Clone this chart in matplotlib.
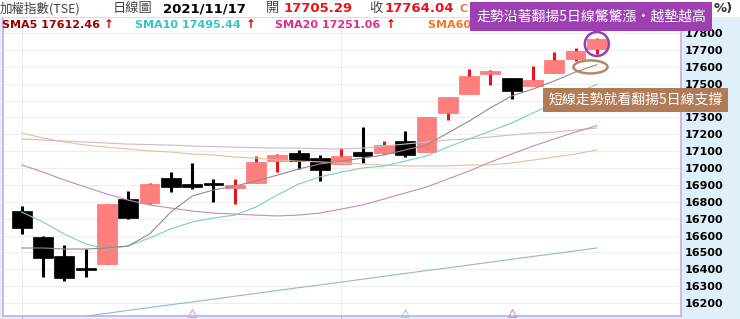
import matplotlib
matplotlib.use("Agg")
import matplotlib.pyplot as plt
from matplotlib.patches import Rectangle, Ellipse

plt.rcParams['font.family'] = ['DejaVu Sans', 'Noto Sans CJK TC']

# daily candles (index 0 .. 27)
opens = [16745, 16593, 16480, 16398, 16430, 16816, 16791, 16939, 16892, 16901,
         16884, 16909, 17040, 17087, 17057, 17024, 17097, 17091, 17162, 17097,
         17328, 17439, 17560, 17531, 17486, 17565, 17644, 17705.29]
highs = [16775, 16597, 16544, 16520, 16787, 16864, 16912, 16978, 17031, 16935,
         16935, 17071, 17083, 17107, 17077, 17120, 17241, 17160, 17221, 17300,
         17419, 17585, 17581, 17531, 17604, 17687, 17709, 17768]
lows = [16609, 16354, 16332, 16354, 16429, 16698, 16784, 16860, 16874, 16800,
        16787, 16909, 16975, 16994, 16923, 17024, 17028, 17081, 17063, 17097,
        17284, 17439, 17492, 17407, 17486, 17565, 17634, 17674]
closes = [16644, 16467, 16348, 16395, 16785, 16706, 16905, 16889, 16889, 16898,
          16899, 17037, 17077, 17041, 16988, 17073, 17071, 17136, 17077, 17300,
          17419, 17545, 17568, 17456, 17521, 17640, 17695, 17764.04]

# moving averages
sma5 = [16526, 16526, 16520, 16520, 16526, 16538, 16609, 16739, 16834, 16870,
        16893, 16923, 16958, 16994, 17024, 17041, 17059, 17077, 17107, 17136,
        17207, 17278, 17356, 17427, 17468, 17516, 17569, 17612]
sma10 = [16739, 16680, 16609, 16550, 16520, 16538, 16585, 16639, 16680, 16704,
         16721, 16769, 16840, 16905, 16947, 16976, 17000, 17012, 17041, 17071,
         17124, 17172, 17219, 17267, 17326, 17385, 17444, 17495]
sma20 = [17018, 16976, 16929, 16887, 16846, 16810, 16781, 16763, 16745, 16733,
         16727, 16721, 16716, 16721, 16733, 16757, 16781, 16816, 16852, 16887,
         16935, 16982, 17035, 17083, 17130, 17172, 17213, 17251]
sma60 = [17207, 17178, 17154, 17136, 17124, 17113, 17101, 17095, 17083, 17077,
         17065, 17059, 17047, 17041, 17036, 17030, 17024, 17018, 17012, 17012,
         17012, 17018, 17018, 17030, 17047, 17065, 17083, 17107]
sma120 = [17172, 17166, 17160, 17154, 17148, 17142, 17139, 17136, 17130, 17127,
          17124, 17121, 17118, 17118, 17115, 17112, 17118, 17130, 17142, 17154,
          17166, 17172, 17184, 17196, 17207, 17213, 17225, 17237]
sma240 = [16070, 16088, 16105, 16122, 16139, 16156, 16173, 16190, 16206, 16223,
          16240, 16257, 16274, 16291, 16307, 16324, 16341, 16358, 16375, 16392,
          16408, 16425, 16442, 16459, 16476, 16492, 16509, 16526]

yticks = list(range(16200, 17900, 100))
# 17400 sits under the annotation box in the original
ytick_labels = ["" if v == 17400 else str(v) for v in yticks]

RED_BODY = "#ff7e7e"
RED_WICK = "#e8141c"

fig = plt.figure(figsize=(7.4, 3.19), dpi=100)
fig.patch.set_facecolor("#dff0fb")
W, H = 740.0, 319.0


def fx(x):
    return x / W


def fy(y):
    return 1 - y / H


# white header strip
fig.patches.append(Rectangle((0, fy(17)), 1, 17 / H, transform=fig.transFigure,
                             facecolor="white", edgecolor="none", zorder=0))

ax = fig.add_axes([3 / W, 3 / H, 678 / W, 299 / H])
ax.set_facecolor("white")

n = len(closes)
xs = list(range(n))

for i in xs:
    o, h, l, c = opens[i], highs[i], lows[i], closes[i]
    up = c > o
    wick_col = RED_WICK if up else "black"
    ax.vlines(i, l, h, color=wick_col, lw=2.2, zorder=2)
    bottom = min(o, c)
    height = max(abs(c - o), 14)
    if up:
        ax.bar(i, height, bottom=bottom, width=0.93, color=RED_BODY,
               edgecolor="#ff6f6f", lw=0.5, zorder=3)
    else:
        ax.bar(i, height, bottom=bottom, width=0.93, color="black",
               edgecolor="black", lw=0.5, zorder=3)

ax.plot(xs, sma240, color="#8fbcbc", lw=0.8, zorder=4)
ax.plot(xs, sma120, color="#cbbacb", lw=0.8, zorder=4)
ax.plot(xs, sma60, color="#ebbd98", lw=0.8, zorder=4)
ax.plot(xs, sma20, color="#c98ab3", lw=0.8, zorder=4)
ax.plot(xs, sma10, color="#74d3bc", lw=0.8, zorder=4)
ax.plot(xs, sma5, color="#998591", lw=0.8, zorder=4)

# small signal markers at the bottom edge
for mi, mc in [(8, "#e0a0d0"), (18, "#a0d8d0"), (23, "#d090c0")]:
    ax.plot(mi, 16140, marker="^", ms=6, mfc="none", mec=mc, mew=0.8,
            clip_on=False, zorder=4)

# highlight shapes on the last candles
ax.add_patch(Ellipse((27, 17735), 1.13, 142, facecolor="none",
                     edgecolor="#9142b4", lw=1.8, zorder=6))
ax.add_patch(Ellipse((26.7, 17599), 1.6, 77, facecolor="none",
                     edgecolor="#b88763", lw=1.8, zorder=6))

ax.set_xlim(-0.878, 30.95)
ax.set_ylim(16123, 17895)
ax.set_yticks(yticks)
ax.set_yticklabels(ytick_labels)
ax.set_xticks([0, 15])
ax.set_xticklabels([])
ax.yaxis.tick_right()
ax.tick_params(axis="y", length=0, pad=3, labelsize=8)
ax.tick_params(axis="x", length=3, color="#bbbbbb", direction="out")
for lab in ax.get_yticklabels():
    lab.set_fontweight("bold")
ax.grid(True, color="#eeeeee", lw=0.8, zorder=0)
ax.set_axisbelow(True)
for side in ["left", "right", "bottom"]:
    ax.spines[side].set_color("#d0a8e0")
    ax.spines[side].set_linewidth(1.2)
ax.spines["top"].set_color("#dddddd")
ax.spines["top"].set_linewidth(0.8)

# header row 1
cjk = ['Noto Sans CJK TC', 'DejaVu Sans']
hy = fy(8.5)
fig.text(fx(0), hy, "加權指數(TSE)", family=cjk, fontsize=9, color="#444444", va="center")
fig.text(fx(113), hy, "日線圖", family=cjk, fontsize=9.5, color="#444444", va="center")
fig.text(fx(163), hy, "2021/11/17", fontsize=9.5, fontweight="bold", color="black", va="center")
fig.text(fx(266), hy, "開", family=cjk, fontsize=9.5, color="#444444", va="center")
fig.text(fx(284), hy, "17705.29", fontsize=9.5, fontweight="bold", color=RED_WICK, va="center")
fig.text(fx(369), hy, "收", family=cjk, fontsize=9.5, color="#444444", va="center")
fig.text(fx(385), hy, "17764.04", fontsize=9.5, fontweight="bold", color=RED_WICK, va="center")
fig.text(fx(459), hy, "C", fontsize=8, fontweight="bold", color="#c88a50", va="center")
fig.text(fx(714), hy, "%)", fontsize=9.5, fontweight="bold", color="#333333", va="center")

# header row 2: moving average values
ry = fy(25)
fig.text(fx(2), ry, "SMA5 17612.46", fontsize=8, fontweight="bold", color="#9a0000", va="center")
fig.text(fx(104), ry, "↑", fontsize=8.5, fontweight="bold", color="#e00000", va="center")
fig.text(fx(135), ry, "SMA10 17495.44", fontsize=8, fontweight="bold", color="#36c4c4", va="center")
fig.text(fx(246), ry, "↑", fontsize=8.5, fontweight="bold", color="#e00000", va="center")
fig.text(fx(275), ry, "SMA20 17251.06", fontsize=8, fontweight="bold", color="#dd2d8f", va="center")
fig.text(fx(386), ry, "↑", fontsize=8.5, fontweight="bold", color="#e00000", va="center")
fig.text(fx(428), ry, "SMA60 1", fontsize=8, fontweight="bold", color="#f0782a", va="center")

# annotation boxes
fig.patches.append(Rectangle((fx(470), fy(31)), 242 / W, 29 / H, transform=fig.transFigure,
                             facecolor="#9d40b2", edgecolor="none", zorder=5))
fig.text(fx(591), fy(16.5), "走勢沿著翻揚5日線驚驚漲·越墊越高", family=cjk, fontsize=10,
         color="white", ha="center", va="center", zorder=6)
fig.patches.append(Rectangle((fx(543), fy(112)), 185 / W, 24 / H, transform=fig.transFigure,
                             facecolor="#b27b58", edgecolor="none", zorder=5))
fig.text(fx(635.5), fy(100), "短線走勢就看翻揚5日線支撐", family=cjk, fontsize=10,
         color="white", ha="center", va="center", zorder=6)

fig.savefig("out.png", dpi=100, facecolor=fig.get_facecolor())
